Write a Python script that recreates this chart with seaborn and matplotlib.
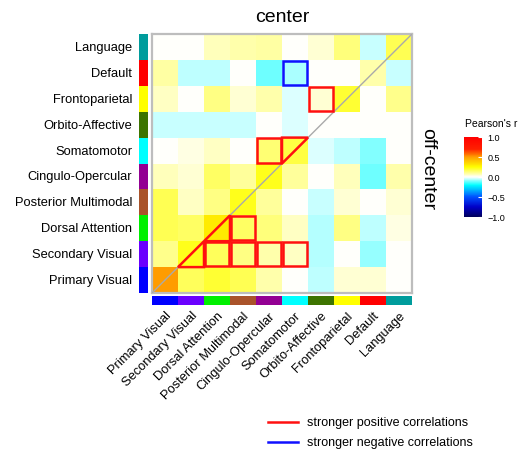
import numpy as np
import pandas as pd
import matplotlib
matplotlib.use("Agg")
import matplotlib.pyplot as plt
from matplotlib.colors import LinearSegmentedColormap, ListedColormap
from matplotlib.patches import Rectangle, Polygon
from matplotlib.lines import Line2D
import seaborn as sns

# Networks, left to right along the columns (bottom to top along the rows)
networks = ["Primary Visual", "Secondary Visual", "Dorsal Attention",
            "Posterior Multimodal", "Cingulo-Opercular", "Somatomotor",
            "Orbito-Affective", "Frontoparietal", "Default", "Language"]
network_colors = ["#0000FF", "#6A00FF", "#00F000", "#A9532A", "#930093",
                  "#00FFFF", "#3D7400", "#FFFF00", "#FF0000", "#009C9C"]

# Pearson's r per row network (values across the column networks)
r_language      = [0.00, 0.00, 0.07, 0.08, 0.09, 0.00, 0.04, 0.13, -0.04, 0.17]
r_default       = [0.09, -0.05, -0.05, 0.00, -0.11, -0.07, 0.00, 0.00, 0.08, -0.04]
r_frontopar     = [0.06, 0.00, 0.12, 0.04, 0.08, -0.03, 0.04, 0.20, 0.00, 0.11]
r_orbito        = [-0.04, -0.04, -0.04, -0.04, 0.00, -0.03, 0.00, 0.00, 0.00, 0.00]
r_somatomotor   = [0.00, 0.03, 0.06, 0.00, 0.14, 0.18, -0.03, -0.05, -0.10, 0.00]
r_cingulo       = [0.07, 0.04, 0.15, 0.10, 0.22, 0.10, 0.00, 0.07, -0.11, 0.08]
r_posterior     = [0.17, 0.06, 0.12, 0.22, 0.10, 0.00, -0.04, 0.04, 0.00, 0.04]
r_dorsal        = [0.17, 0.15, 0.30, 0.15, 0.13, 0.06, -0.06, 0.12, -0.05, 0.03]
r_secondary     = [0.11, 0.22, 0.16, 0.12, 0.08, 0.06, -0.06, 0.00, -0.08, 0.00]
r_primary       = [0.50, 0.16, 0.20, 0.17, 0.08, 0.00, -0.05, 0.04, 0.04, 0.00]

# Network pairs (row, column) flagged as stronger correlations
positive_pairs = [("Frontoparietal", "Orbito-Affective"),
                  ("Somatomotor", "Cingulo-Opercular"),
                  ("Dorsal Attention", "Posterior Multimodal"),
                  ("Secondary Visual", "Dorsal Attention"),
                  ("Secondary Visual", "Posterior Multimodal"),
                  ("Secondary Visual", "Cingulo-Opercular"),
                  ("Secondary Visual", "Somatomotor")]
positive_halves = [("Somatomotor", "upper"),
                   ("Dorsal Attention", "lower"),
                   ("Secondary Visual", "lower")]
negative_pairs = [("Default", "Somatomotor")]

rows_top_down = networks[::-1]
matrix = pd.DataFrame([r_language, r_default, r_frontopar, r_orbito,
                       r_somatomotor, r_cingulo, r_posterior, r_dorsal,
                       r_secondary, r_primary],
                      index=rows_top_down, columns=networks)

cmap = LinearSegmentedColormap.from_list("pearson", [
    (0.000, "#00005A"), (0.125, "#0000C8"), (0.250, "#0050FF"),
    (0.400, "#00FFFF"), (0.500, "#FFFFFF"), (0.625, "#FFFF00"),
    (0.750, "#FFA000"), (0.850, "#FF2000"), (1.000, "#FF0000")])

W, H = 524, 452
fig = plt.figure(figsize=(W / 100, H / 100), dpi=100)
plt.rcParams["font.family"] = ["Liberation Sans", "DejaVu Sans"]


def fax(x0, y0, x1, y1):
    return fig.add_axes([x0 / W, 1 - y1 / H, (x1 - x0) / W, (y1 - y0) / H])


ax = fax(152, 35, 412, 294)
cax = fax(464, 138, 482, 218)
rax = fax(139, 35, 148, 294)
bax = fax(152, 297, 412, 306)

sns.heatmap(matrix, ax=ax, cmap=cmap, vmin=-1, vmax=1, cbar_ax=cax,
            xticklabels=False, yticklabels=False, square=False)
ax.set_xlabel("")
ax.set_ylabel("")
for s in ax.spines.values():
    s.set_visible(True)
    s.set_color("#BDBDBD")
    s.set_linewidth(1.6)

n = len(networks)
ax.plot([0, n], [n, 0], color="#AAAAAA", lw=1.0, zorder=3)


def cell(row_name, col_name):
    return networks.index(col_name), rows_top_down.index(row_name)


for rname, cname in positive_pairs:
    c, r = cell(rname, cname)
    ax.add_patch(Rectangle((c + 0.03, r + 0.03), 0.94, 0.94, fill=False,
                           ec="#FF1010", lw=1.8, zorder=4))
for rname, cname in negative_pairs:
    c, r = cell(rname, cname)
    ax.add_patch(Rectangle((c + 0.03, r + 0.03), 0.94, 0.94, fill=False,
                           ec="#1010FF", lw=1.8, zorder=4))
for name, half in positive_halves:
    c, r = cell(name, name)
    if half == "lower":
        pts = [(c, r + 1), (c + 1, r + 1), (c + 1, r)]
    else:
        pts = [(c, r), (c + 1, r), (c, r + 1)]
    ax.add_patch(Polygon(pts, closed=True, fill=False, ec="#FF1010",
                         lw=1.8, zorder=4, joinstyle="miter"))

# Network colour strips
strip_cmap = ListedColormap(network_colors)
sns.heatmap(pd.DataFrame(np.arange(n)[::-1].reshape(-1, 1), index=rows_top_down),
            ax=rax, cmap=strip_cmap, vmin=-0.5, vmax=n - 0.5, cbar=False,
            xticklabels=False, yticklabels=rows_top_down)
rax.tick_params(axis="y", length=0, pad=5, labelsize=9.3, rotation=0)
rax.set_ylabel("")

sns.heatmap(pd.DataFrame(np.arange(n).reshape(1, -1), columns=networks),
            ax=bax, cmap=strip_cmap, vmin=-0.5, vmax=n - 0.5, cbar=False,
            xticklabels=networks, yticklabels=False)
bax.tick_params(axis="x", length=0, pad=3, labelsize=9.3)
for lab in bax.get_xticklabels():
    lab.set_rotation(45)
    lab.set_ha("right")
    lab.set_va("top")
    lab.set_rotation_mode("anchor")
bax.set_xlabel("")

# Colour bar
cax.set_yticks([-1, -0.5, 0, 0.5, 1])
cax.set_yticklabels(["\u22121.0", "\u22120.5", "0.0", "0.5", "1.0"])
cax.tick_params(axis="y", direction="in", length=3, color="white",
                labelsize=6.5, pad=4)
for s in cax.spines.values():
    s.set_visible(False)
fig.text(491 / W, 1 - 124 / H, "Pearson's r", ha="center", va="center",
         fontsize=7.5)

fig.text(282 / W, 1 - 18 / H, "center", ha="center", va="center", fontsize=14)
fig.text(428 / W, 1 - 169 / H, "off-center", ha="center", va="center",
         fontsize=14, rotation=270)

# Key for the outlined cells
for y, color, label in [(423, "#FF1010", "stronger positive correlations"),
                        (443, "#1010FF", "stronger negative correlations")]:
    fig.add_artist(Line2D([268 / W, 298 / W], [1 - y / H, 1 - y / H],
                          color=color, lw=1.8))
    fig.text(307 / W, 1 - y / H, label, ha="left", va="center", fontsize=9)

fig.savefig("out.png", dpi=100)
